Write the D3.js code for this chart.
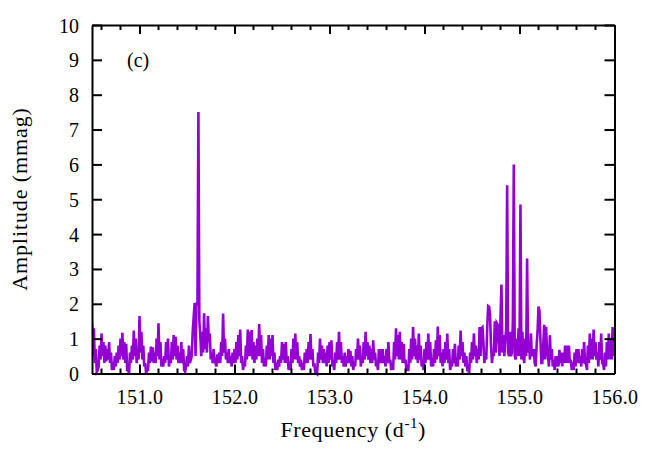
<!DOCTYPE html>
<html><head><meta charset="utf-8">
<script src="https://cdn.jsdelivr.net/npm/d3@7"></script>
<style>body{margin:0;background:#fff}svg{display:block}</style></head>
<body><svg id="chart" width="664" height="465"></svg>
<script>
// Frequency grid (d^-1)
const frequencies = [
150.50,150.51,150.52,150.53,150.54,150.55,150.56,150.57,150.58,150.59,
150.60,150.61,150.62,150.63,150.64,150.65,150.66,150.67,150.68,150.69,
150.70,150.71,150.72,150.73,150.74,150.75,150.76,150.77,150.78,150.79,
150.80,150.81,150.82,150.83,150.84,150.85,150.86,150.87,150.88,150.89,
150.90,150.91,150.92,150.93,150.94,150.95,150.96,150.97,150.98,150.99,
151.00,151.01,151.02,151.03,151.04,151.05,151.06,151.07,151.08,151.09,
151.10,151.11,151.12,151.13,151.14,151.15,151.16,151.17,151.18,151.19,
151.20,151.21,151.22,151.23,151.24,151.25,151.26,151.27,151.28,151.29,
151.30,151.31,151.32,151.33,151.34,151.35,151.36,151.37,151.38,151.39,
151.40,151.41,151.42,151.43,151.44,151.45,151.46,151.47,151.48,151.49,
151.50,151.51,151.52,151.53,151.54,151.55,151.56,151.57,151.58,151.59,
151.60,151.61,151.62,151.63,151.64,151.65,151.66,151.67,151.68,151.69,
151.70,151.71,151.72,151.73,151.74,151.75,151.76,151.77,151.78,151.79,
151.80,151.81,151.82,151.83,151.84,151.85,151.86,151.87,151.88,151.89,
151.90,151.91,151.92,151.93,151.94,151.95,151.96,151.97,151.98,151.99,
152.00,152.01,152.02,152.03,152.04,152.05,152.06,152.07,152.08,152.09,
152.10,152.11,152.12,152.13,152.14,152.15,152.16,152.17,152.18,152.19,
152.20,152.21,152.22,152.23,152.24,152.25,152.26,152.27,152.28,152.29,
152.30,152.31,152.32,152.33,152.34,152.35,152.36,152.37,152.38,152.39,
152.40,152.41,152.42,152.43,152.44,152.45,152.46,152.47,152.48,152.49,
152.50,152.51,152.52,152.53,152.54,152.55,152.56,152.57,152.58,152.59,
152.60,152.61,152.62,152.63,152.64,152.65,152.66,152.67,152.68,152.69,
152.70,152.71,152.72,152.73,152.74,152.75,152.76,152.77,152.78,152.79,
152.80,152.81,152.82,152.83,152.84,152.85,152.86,152.87,152.88,152.89,
152.90,152.91,152.92,152.93,152.94,152.95,152.96,152.97,152.98,152.99,
153.00,153.01,153.02,153.03,153.04,153.05,153.06,153.07,153.08,153.09,
153.10,153.11,153.12,153.13,153.14,153.15,153.16,153.17,153.18,153.19,
153.20,153.21,153.22,153.23,153.24,153.25,153.26,153.27,153.28,153.29,
153.30,153.31,153.32,153.33,153.34,153.35,153.36,153.37,153.38,153.39,
153.40,153.41,153.42,153.43,153.44,153.45,153.46,153.47,153.48,153.49,
153.50,153.51,153.52,153.53,153.54,153.55,153.56,153.57,153.58,153.59,
153.60,153.61,153.62,153.63,153.64,153.65,153.66,153.67,153.68,153.69,
153.70,153.71,153.72,153.73,153.74,153.75,153.76,153.77,153.78,153.79,
153.80,153.81,153.82,153.83,153.84,153.85,153.86,153.87,153.88,153.89,
153.90,153.91,153.92,153.93,153.94,153.95,153.96,153.97,153.98,153.99,
154.00,154.01,154.02,154.03,154.04,154.05,154.06,154.07,154.08,154.09,
154.10,154.11,154.12,154.13,154.14,154.15,154.16,154.17,154.18,154.19,
154.20,154.21,154.22,154.23,154.24,154.25,154.26,154.27,154.28,154.29,
154.30,154.31,154.32,154.33,154.34,154.35,154.36,154.37,154.38,154.39,
154.40,154.41,154.42,154.43,154.44,154.45,154.46,154.47,154.48,154.49,
154.50,154.51,154.52,154.53,154.54,154.55,154.56,154.57,154.58,154.59,
154.60,154.61,154.62,154.63,154.64,154.65,154.66,154.67,154.68,154.69,
154.70,154.71,154.72,154.73,154.74,154.75,154.76,154.77,154.78,154.79,
154.80,154.81,154.82,154.83,154.84,154.85,154.86,154.87,154.88,154.89,
154.90,154.91,154.92,154.93,154.94,154.95,154.96,154.97,154.98,154.99,
155.00,155.01,155.02,155.03,155.04,155.05,155.06,155.07,155.08,155.09,
155.10,155.11,155.12,155.13,155.14,155.15,155.16,155.17,155.18,155.19,
155.20,155.21,155.22,155.23,155.24,155.25,155.26,155.27,155.28,155.29,
155.30,155.31,155.32,155.33,155.34,155.35,155.36,155.37,155.38,155.39,
155.40,155.41,155.42,155.43,155.44,155.45,155.46,155.47,155.48,155.49,
155.50,155.51,155.52,155.53,155.54,155.55,155.56,155.57,155.58,155.59,
155.60,155.61,155.62,155.63,155.64,155.65,155.66,155.67,155.68,155.69,
155.70,155.71,155.72,155.73,155.74,155.75,155.76,155.77,155.78,155.79,
155.80,155.81,155.82,155.83,155.84,155.85,155.86,155.87,155.88,155.89,
155.90,155.91,155.92,155.93,155.94,155.95,155.96,155.97,155.98,155.99,
156.00
];
// Amplitude (mmag) (one row per 0.5 d^-1)
const amplitudes = [
1.45,0.5,1.3,0.3,0.7,0.05,0.1,0.2,0.8,0.4,1.15,0.5,0.9,0.3,0.8,0.35,0.7,0.4,0.9,0.3,0.6,0.1,0.2,0.1,0.5,0.2,0.6,0.3,0.8,0.4,1.0,0.5,1.17,0.4,0.9,0.3,0.85,0.1,0.1,0.0,0.6,0.3,0.8,0.4,1.23,0.5,1.0,0.3,0.7,0.4,
1.65,0.6,1.2,0.4,0.8,0.2,0.3,0.0,0.1,0.1,0.6,0.3,0.77,0.35,0.75,0.3,0.6,0.3,1.0,0.5,1.44,0.4,0.9,0.2,0.3,0.2,0.5,0.3,0.9,0.4,1.0,0.2,0.4,0.3,0.9,0.4,1.1,0.5,1.05,0.4,0.8,0.3,0.6,0.3,0.9,0.3,0.7,0.1,0.05,0.2,
0.5,0.2,0.8,0.3,0.4,0.5,1.2,1.6,2.02,0.5,2.0,2.0,7.5,1.5,1.1,0.5,1.2,0.6,1.73,0.7,1.3,0.6,1.65,0.9,1.15,0.4,0.6,0.3,0.7,0.4,0.3,0.2,0.55,0.3,0.6,0.3,0.9,0.5,1.72,0.6,1.0,0.4,0.6,0.3,0.7,0.3,0.5,0.2,0.6,0.3,
0.7,0.3,0.9,0.4,1.1,0.5,1.26,0.3,0.5,0.1,0.3,0.2,0.8,0.4,1.26,0.5,1.2,0.5,1.25,0.4,0.9,0.3,0.8,0.4,1.0,0.5,1.42,0.5,1.1,0.3,0.7,0.2,0.3,0.2,0.8,0.4,1.1,0.4,1.0,0.5,1.1,0.3,0.6,0.1,0.3,0.1,0.4,0.2,0.5,0.3,
0.9,0.4,0.85,0.3,0.9,0.3,0.5,0.1,0.2,0.1,0.7,0.3,1.0,0.4,1.15,0.4,0.9,0.3,0.5,0.2,0.4,0.1,0.3,0.1,0.6,0.3,0.7,0.3,0.9,0.4,1.13,0.4,0.7,0.2,0.3,0.05,0.05,0.0,0.6,0.3,1.0,0.4,0.8,0.3,0.7,0.3,0.6,0.2,0.8,0.3,
0.9,0.4,0.95,0.2,0.3,0.1,0.6,0.3,0.9,0.4,1.2,0.4,0.9,0.3,0.5,0.2,0.6,0.2,0.5,0.3,0.7,0.3,0.65,0.2,0.5,0.1,0.3,0.2,0.7,0.4,1.0,0.4,0.8,0.2,0.5,0.3,0.9,0.4,1.2,0.5,0.9,0.4,0.8,0.3,0.7,0.3,0.95,0.4,0.6,0.2,
0.3,0.1,0.7,0.3,0.7,0.3,0.7,0.3,0.5,0.2,0.7,0.3,0.9,0.3,0.4,0.1,0.3,0.1,0.9,0.4,1.3,0.5,1.1,0.4,1.2,0.4,0.9,0.3,0.85,0.3,0.4,0.1,0.1,0.1,0.7,0.3,1.0,0.4,1.33,0.5,1.0,0.4,0.8,0.3,1.15,0.4,0.8,0.2,0.3,0.1,
0.7,0.3,0.9,0.4,1.15,0.4,0.9,0.2,0.4,0.2,0.7,0.3,0.95,0.4,1.35,0.5,1.1,0.3,0.6,0.2,0.7,0.3,0.9,0.4,1.15,0.3,0.7,0.1,0.3,0.2,0.7,0.3,0.85,0.2,0.3,0.2,0.8,0.4,1.23,0.5,0.9,0.3,0.6,0.2,0.5,0.1,0.1,0.0,0.6,0.3,
0.9,0.4,1.15,0.5,0.8,0.3,0.7,0.4,1.33,0.5,1.3,1.33,0.9,0.3,0.5,0.4,1.3,1.94,1.92,1.68,0.8,0.3,0.6,0.5,1.5,0.6,1.45,1.4,1.0,0.5,1.6,2.55,0.6,1.1,0.5,0.9,1.3,5.4,0.6,0.5,1.2,0.5,0.6,1.5,6.0,0.5,0.4,1.0,0.5,1.3,
0.5,4.85,0.4,1.2,0.5,0.3,1.0,0.5,3.3,0.6,0.9,0.4,1.15,0.5,0.6,0.7,0.3,0.2,0.8,1.2,1.92,1.8,1.0,0.3,0.3,0.8,1.4,0.4,1.34,0.6,0.5,0.2,1.1,0.4,0.7,0.2,0.4,0.1,0.5,0.2,0.5,0.2,0.68,0.3,0.6,0.2,0.6,0.3,0.8,0.3,
0.8,0.3,0.8,0.3,0.4,0.1,0.2,0.1,0.6,0.2,0.7,0.3,0.7,0.3,0.5,0.2,0.7,0.3,0.9,0.3,0.3,0.1,0.8,0.3,1.15,0.4,1.0,0.4,1.26,0.5,0.9,0.4,0.6,0.2,0.9,0.4,1.15,0.3,0.3,0.1,0.6,0.2,0.9,0.4,1.15,0.4,1.0,0.4,1.33,0.5,
1.2
];
const xTickValues = [151, 152, 153, 154, 155, 156];
const xTickLabels = ["151.0", "152.0", "153.0", "154.0", "155.0", "156.0"];
const xMinorTicks = [150.6,150.8,151.2,151.4,151.6,151.8,152.2,152.4,152.6,152.8,153.2,153.4,153.6,153.8,154.2,154.4,154.6,154.8,155.2,155.4,155.6,155.8];
const yTickValues = [0,1,2,3,4,5,6,7,8,9,10];
const panelLabel = "(c)";
const xTitle = "Frequency (d";
const xTitleSup = "-1";
const yTitle = "Amplitude (mmag)";

const svg = d3.select("#chart");
const L = 92, R = 614.5, T = 25, B = 373.5;
const x = d3.scaleLinear().domain([150.5, 156]).range([L, R]);
const y = d3.scaleLinear().domain([0, 10]).range([B, T]);
const font = "'Liberation Serif', 'Times New Roman', serif";

const data = frequencies.map((f, i) => ({f, a: amplitudes[i]}));

// data line
svg.append("clipPath").attr("id", "clip").append("rect")
  .attr("x", L).attr("y", 0).attr("width", R - L).attr("height", B + 3);
svg.append("path").datum(data)
  .attr("clip-path", "url(#clip)")
  .attr("fill", "none").attr("stroke", "#9400d3").attr("stroke-width", 2.6)
  .attr("stroke-linejoin", "miter")
  .attr("d", d3.line().x(d => x(d.f)).y(d => y(d.a)));

function styleAxis(g) {
  g.selectAll(".domain").attr("stroke", "#000").attr("stroke-width", 2);
  g.selectAll(".tick line").attr("stroke", "#000").attr("stroke-width", 2);
}

// bottom
const gB = svg.append("g").attr("transform", `translate(0,${B})`)
  .call(d3.axisBottom(x).tickValues(xTickValues).tickSize(-9).tickSizeOuter(0)
    .tickFormat((d, i) => xTickLabels[i]));
styleAxis(gB);
gB.selectAll("text").attr("y", 30.5).attr("dy", null)
  .attr("font-family", font).attr("font-size", 20).attr("fill", "#000")
  .style("letter-spacing", "0.4px");
gB.append("g").selectAll("line").data(xMinorTicks).join("line")
  .attr("x1", d => x(d)).attr("x2", d => x(d)).attr("y1", 0).attr("y2", -5)
  .attr("stroke", "#000").attr("stroke-width", 2);

// top
const gT = svg.append("g").attr("transform", `translate(0,${T})`)
  .call(d3.axisTop(x).tickValues(xTickValues).tickSize(-9).tickSizeOuter(0).tickFormat(""));
styleAxis(gT);
gT.append("g").selectAll("line").data(xMinorTicks).join("line")
  .attr("x1", d => x(d)).attr("x2", d => x(d)).attr("y1", 0).attr("y2", 5)
  .attr("stroke", "#000").attr("stroke-width", 2);

// left
const gL = svg.append("g").attr("transform", `translate(${L},0)`)
  .call(d3.axisLeft(y).tickValues(yTickValues).tickSize(-10).tickSizeOuter(0).tickFormat(d3.format("d")));
styleAxis(gL);
gL.selectAll("text").attr("x", -13).attr("dy", "0.35em")
  .attr("font-family", font).attr("font-size", 20).attr("fill", "#000");

// right
const gR = svg.append("g").attr("transform", `translate(${R},0)`)
  .call(d3.axisRight(y).tickValues(yTickValues).tickSize(-10).tickSizeOuter(0).tickFormat(""));
styleAxis(gR);

// panel label
svg.append("text").attr("x", 127).attr("y", 67)
  .attr("font-family", font).attr("font-size", 20).text(panelLabel);

// x title
const xt = svg.append("text").attr("x", (L + R) / 2).attr("y", 437)
  .attr("text-anchor", "middle").attr("font-family", font).attr("font-size", 22)
  .style("letter-spacing", "0.6px");
xt.append("tspan").text(xTitle);
xt.append("tspan").attr("font-size", 15).attr("dy", -9).text(xTitleSup);
xt.append("tspan").attr("dy", 9).text(")");

// y title
svg.append("text").attr("transform", `translate(27,199) rotate(-90)`)
  .attr("text-anchor", "middle").attr("font-family", font).attr("font-size", 22)
  .style("letter-spacing", "0.9px").text(yTitle);
</script>
</body></html>
